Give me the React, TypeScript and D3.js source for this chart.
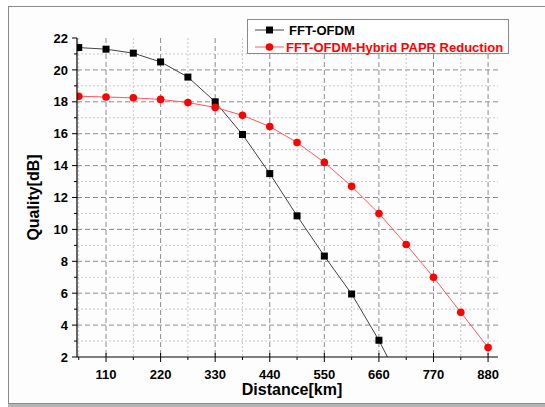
import * as d3 from "d3";

// Chart size and plot bounds (pixels)
const WIDTH = 545;
const HEIGHT = 407;
const MARGIN = { top: 38, right: 47, bottom: 50, left: 77 };

const distance = [55, 110, 165, 220, 275, 330, 385, 440, 495, 550, 605, 660, 715, 770, 825, 880];
// FFT-OFDM drops below the axis after 660 km, last value is off-scale
const fftOfdm = [21.4, 21.3, 21.05, 20.5, 19.55, 18.0, 15.95, 13.5, 10.85, 8.33, 5.95, 3.05, -0.3];
const hybrid = [18.35, 18.3, 18.25, 18.15, 17.95, 17.65, 17.15, 16.45, 15.45, 14.2, 12.7, 11.0, 9.05, 7.0, 4.8, 2.6];

const xTicks = [110, 220, 330, 440, 550, 660, 770, 880];
const xMinorTicks = [55, 165, 275, 385, 495, 605, 715, 825];
const yTicks = [2, 4, 6, 8, 10, 12, 14, 16, 18, 20, 22];
const yMinorTicks = [3, 5, 7, 9, 11, 13, 15, 17, 19, 21];

const seriesNames = ["FFT-OFDM", "FFT-OFDM-Hybrid PAPR Reduction"];

const FONT = "'Liberation Sans', Arial, sans-serif";

export default function App() {
  const x0 = MARGIN.left;
  const x1 = WIDTH - MARGIN.right;
  const y0 = HEIGHT - MARGIN.bottom;
  const y1 = MARGIN.top;

  const xScale = d3.scaleLinear().domain([51.5, 900]).range([x0, x1]);
  const yScale = d3.scaleLinear().domain([2, 22]).range([y0, y1]);

  const line = d3
    .line<[number, number]>()
    .x((d) => xScale(d[0]))
    .y((d) => yScale(d[1]));

  const blackPts: [number, number][] = fftOfdm.map((v, i) => [distance[i], v]);
  const redPts: [number, number][] = hybrid.map((v, i) => [distance[i], v]);

  return (
    <svg
      width={WIDTH}
      height={HEIGHT}
      style={{ position: "absolute", left: 0, top: 0, fontFamily: FONT }}
    >
      <defs>
        <clipPath id="plot">
          <rect x={x0} y={y1 - 4} width={x1 - x0} height={y0 - y1 + 4} />
        </clipPath>
      </defs>
      <rect x={0} y={0} width={WIDTH} height={HEIGHT} fill="#ffffff" />
      {/* outer frame */}
      <rect x={8.5} y={6.5} width={WIDTH} height={397} fill="#fdfdfd" stroke="#8a8a8a" />
      <rect x={8} y={404} width={WIDTH} height={3} fill="#b4b4b4" />

      {/* minor grid */}
      {xMinorTicks.map((t) => (
        <line key={"vx" + t} x1={xScale(t)} x2={xScale(t)} y1={y1} y2={y0}
          stroke="#c8c8c8" strokeWidth={1} strokeDasharray="2,2" />
      ))}
      {yMinorTicks.map((t) => (
        <line key={"hy" + t} x1={x0} x2={x1} y1={yScale(t)} y2={yScale(t)}
          stroke="#c8c8c8" strokeWidth={1} strokeDasharray="2,2" />
      ))}
      {/* major grid */}
      {xTicks.map((t) => (
        <line key={"gx" + t} x1={xScale(t)} x2={xScale(t)} y1={y1} y2={y0}
          stroke="#8c8c8c" strokeWidth={1} strokeDasharray="5,3" />
      ))}
      {yTicks.filter((t) => t > 2 && t < 22).map((t) => (
        <line key={"gy" + t} x1={x0} x2={x1} y1={yScale(t)} y2={yScale(t)}
          stroke="#8c8c8c" strokeWidth={1} strokeDasharray="5,3" />
      ))}

      {/* series */}
      <g clipPath="url(#plot)">
        <path d={line(blackPts) || undefined} fill="none" stroke="#444" strokeWidth={1} />
        <path d={line(redPts) || undefined} fill="none" stroke="#ff5a5a" strokeWidth={1} />
        {blackPts.map((d, i) => (
          <rect key={"b" + i} x={xScale(d[0]) - 3.5} y={yScale(d[1]) - 3.5} width={7} height={7} fill="#000" />
        ))}
        {redPts.map((d, i) => (
          <circle key={"r" + i} cx={xScale(d[0])} cy={yScale(d[1])} r={3.8} fill="#ff0000" />
        ))}
      </g>

      {/* axes */}
      <line x1={x0} x2={x0} y1={y1} y2={y0} stroke="#000" strokeWidth={1.2} />
      <line x1={x0} x2={x1} y1={y0} y2={y0} stroke="#000" strokeWidth={1.2} />
      {yTicks.map((t) => (
        <g key={"yt" + t}>
          <line x1={x0 - 5} x2={x0} y1={yScale(t)} y2={yScale(t)} stroke="#000" />
          <text x={x0 - 9} y={yScale(t)} dy="0.36em" textAnchor="end" fontSize={13} fontWeight="bold">
            {t}
          </text>
        </g>
      ))}
      {yMinorTicks.map((t) => (
        <line key={"ym" + t} x1={x0 - 3} x2={x0} y1={yScale(t)} y2={yScale(t)} stroke="#000" />
      ))}
      {xTicks.map((t) => (
        <g key={"xt" + t}>
          <line x1={xScale(t)} x2={xScale(t)} y1={y0 - 4} y2={y0 + 5} stroke="#000" />
          <text x={xScale(t)} y={y0 + 22} textAnchor="middle" fontSize={13} fontWeight="bold">
            {t}
          </text>
        </g>
      ))}
      {xMinorTicks.map((t) => (
        <line key={"xm" + t} x1={xScale(t)} x2={xScale(t)} y1={y0} y2={y0 + 3} stroke="#000" />
      ))}

      {/* axis titles */}
      <text x={292} y={395} textAnchor="middle" fontSize={16} fontWeight="bold">
        Distance[km]
      </text>
      <text transform={`translate(39, ${(y0 + y1) / 2}) rotate(-90)`} textAnchor="middle" fontSize={16} fontWeight="bold">
        Quality[dB]
      </text>

      {/* legend */}
      <g>
        <rect x={247.5} y={19.5} width={261} height={34} fill="#fff" stroke="#8a8a8a" />
        <line x1={255} x2={284} y1={30} y2={30} stroke="#444" />
        <rect x={266} y={26.5} width={7} height={7} fill="#000" />
        <text x={289} y={30} dy="0.36em" fontSize={13} fontWeight="bold" fill="#000">
          {seriesNames[0]}
        </text>
        <line x1={255} x2={284} y1={47} y2={47} stroke="#ff5a5a" />
        <circle cx={269.5} cy={47} r={3.8} fill="#ff0000" />
        <text x={286} y={47} dy="0.36em" fontSize={13} fontWeight="bold" fill="#ff0000">
          {seriesNames[1]}
        </text>
      </g>
    </svg>
  );
}
